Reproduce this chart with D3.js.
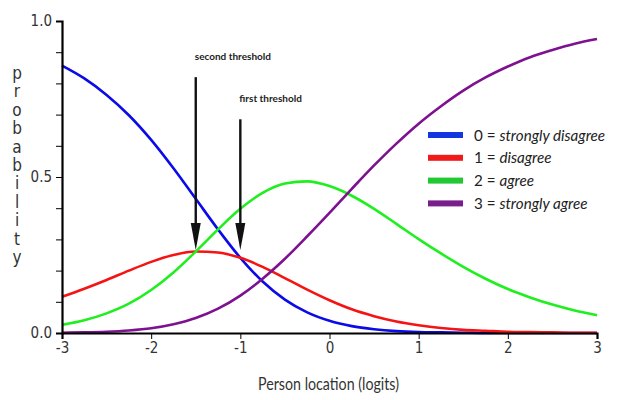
<!DOCTYPE html>
<html>
<head>
<meta charset="utf-8">
<script src="https://cdn.jsdelivr.net/npm/d3@7"></script>
<style>
  body { margin: 0; background: #fff; }
  svg { display: block; }
</style>
</head>
<body>
<svg id="chart" width="618" height="400"></svg>
<script>
var theta = [-3, -2.75, -2.5, -2.25, -2, -1.75, -1.5, -1.25, -1, -0.75, -0.5, -0.25,
    0, 0.25, 0.5, 0.75, 1, 1.25, 1.5, 1.75, 2, 2.25, 2.5, 2.75, 3];

var pStronglyDisagree = [0.857, 0.816, 0.763, 0.698, 0.619, 0.528, 0.430, 0.332, 0.241, 0.165, 0.107, 0.066,
    0.039, 0.022, 0.012, 0.006, 0.003, 0.002, 0.001, 0, 0, 0, 0, 0, 0];
var pDisagree = [0.116, 0.142, 0.170, 0.200, 0.228, 0.250, 0.261, 0.258, 0.241, 0.212, 0.176, 0.139,
    0.105, 0.076, 0.054, 0.037, 0.025, 0.016, 0.010, 0.007, 0.004, 0.003, 0.002, 0.001, 0.001];
var pAgree = [0.026, 0.041, 0.063, 0.094, 0.138, 0.194, 0.261, 0.332, 0.398, 0.449, 0.479, 0.486,
    0.471, 0.440, 0.398, 0.350, 0.301, 0.255, 0.212, 0.174, 0.141, 0.114, 0.091, 0.072, 0.057];
var pStronglyAgree = [0.001, 0.002, 0.004, 0.008, 0.015, 0.028, 0.048, 0.078, 0.120, 0.174, 0.238, 0.310,
    0.385, 0.462, 0.537, 0.607, 0.671, 0.727, 0.777, 0.819, 0.854, 0.884, 0.907, 0.927, 0.942];

var categoryCodes = ["0", "1", "2", "3"];
var categoryNames = ["strongly disagree", "disagree", "agree", "strongly agree"];

var xTicks = [-3, -2, -1, 0, 1, 2, 3];
var yLabelTicks = [0, 0.5, 1];

// threshold arrows: location, top of shaft, tip (probability units)
var thresholdNames = ["second threshold", "first threshold"];
var thresholdAt = [-1.5, -1.0];
var thresholdTop = [0.82, 0.685];
var thresholdTip = [0.266, 0.266];

var colors = ["#0b0be8", "#f41414", "#1fef1f", "#7e1190"];
var legendColors = ["#1236e0", "#f01a1a", "#22c832", "#7a1e8e"];

var svg = d3.select("#chart");
svg.append("rect").attr("width", 618).attr("height", 400).attr("fill", "#fff");

var x = d3.scaleLinear().domain([-3, 3]).range([62, 597]);
var y = d3.scaleLinear().domain([0, 1]).range([333, 21]);

var narrow = '"Liberation Sans Narrow", "Arial Narrow", "DejaVu Sans Condensed", sans-serif';

// curves
var series = [pStronglyDisagree, pDisagree, pAgree, pStronglyAgree];
var line = d3.line()
    .x(function (d, i) { return x(theta[i]); })
    .y(function (d) { return y(d); })
    .curve(d3.curveMonotoneX);

svg.append("g").selectAll("path")
    .data(series)
    .enter().append("path")
    .attr("d", line)
    .attr("fill", "none")
    .attr("stroke", function (d, i) { return colors[i]; })
    .attr("stroke-width", 2.6);

// axes
var xAxis = svg.append("g")
    .attr("transform", "translate(0," + y(0) + ")")
    .call(d3.axisBottom(x).tickValues(xTicks).tickSize(6).tickPadding(3)
        .tickFormat(function (d) { return String(d); }));
xAxis.select(".domain").attr("stroke", "#000").attr("stroke-width", 2.2);
xAxis.selectAll("text").attr("font-family", narrow).attr("font-size", 15).attr("fill", "#333");

var yAxis = svg.append("g")
    .attr("transform", "translate(" + x(-3) + ",0)")
    .call(d3.axisLeft(y).ticks(10).tickSize(6).tickPadding(4)
        .tickFormat(function (d) {
            return yLabelTicks.indexOf(Math.round(d * 10) / 10) >= 0 ? d3.format(".1f")(d) : "";
        }));
yAxis.select(".domain").attr("stroke", "#000").attr("stroke-width", 2.2);
yAxis.selectAll("text").attr("font-family", narrow).attr("font-size", 15).attr("fill", "#333");

// y title, one letter per row
var yTitle = "probability".split("");
svg.append("g").selectAll("text")
    .data(yTitle)
    .enter().append("text")
    .attr("x", 17)
    .attr("y", function (d, i) { return 79 + i * 18.4; })
    .attr("text-anchor", "middle")
    .attr("font-family", narrow)
    .attr("font-size", 17)
    .attr("fill", "#333")
    .text(function (d) { return d; });

svg.append("text")
    .attr("x", 258)
    .attr("y", 390)
    .attr("textLength", 141)
    .attr("lengthAdjust", "spacingAndGlyphs")
    .attr("font-family", "Lato, sans-serif")
    .attr("font-size", 17)
    .attr("fill", "#333")
    .text("Person location (logits)");

// threshold arrows
var arrows = svg.append("g");
thresholdNames.forEach(function (name, i) {
    var ax = x(thresholdAt[i]), top = y(thresholdTop[i]), tip = y(thresholdTip[i]);
    arrows.append("line")
        .attr("x1", ax).attr("x2", ax)
        .attr("y1", top).attr("y2", tip - 20)
        .attr("stroke", "#111").attr("stroke-width", 2.4);
    arrows.append("path")
        .attr("d", "M" + (ax - 5) + "," + (tip - 27) + "L" + (ax + 5) + "," + (tip - 27) + "L" + ax + "," + tip + "Z")
        .attr("fill", "#111");
    arrows.append("text")
        .attr("x", ax - 1)
        .attr("y", top - 17)
        .attr("font-family", "Lato, sans-serif")
        .attr("font-weight", "bold")
        .attr("font-size", 10)
        .attr("fill", "#222")
        .text(name);
});

// legend
var legend = svg.append("g").attr("transform", "translate(428,135)");
var rows = legend.selectAll("g")
    .data(categoryNames)
    .enter().append("g")
    .attr("transform", function (d, i) { return "translate(0," + i * 22.8 + ")"; });
rows.append("rect")
    .attr("x", 0).attr("y", -3)
    .attr("width", 35).attr("height", 6)
    .attr("fill", function (d, i) { return legendColors[i]; });
var labels = rows.append("text")
    .attr("x", 46).attr("y", 5.5)
    .attr("font-family", "Lato, sans-serif")
    .attr("font-size", 15.2)
    .attr("fill", "#222");
labels.append("tspan").text(function (d, i) { return categoryCodes[i] + " = "; });
labels.append("tspan").attr("font-style", "italic").text(function (d) { return d; });
</script>
</body>
</html>
